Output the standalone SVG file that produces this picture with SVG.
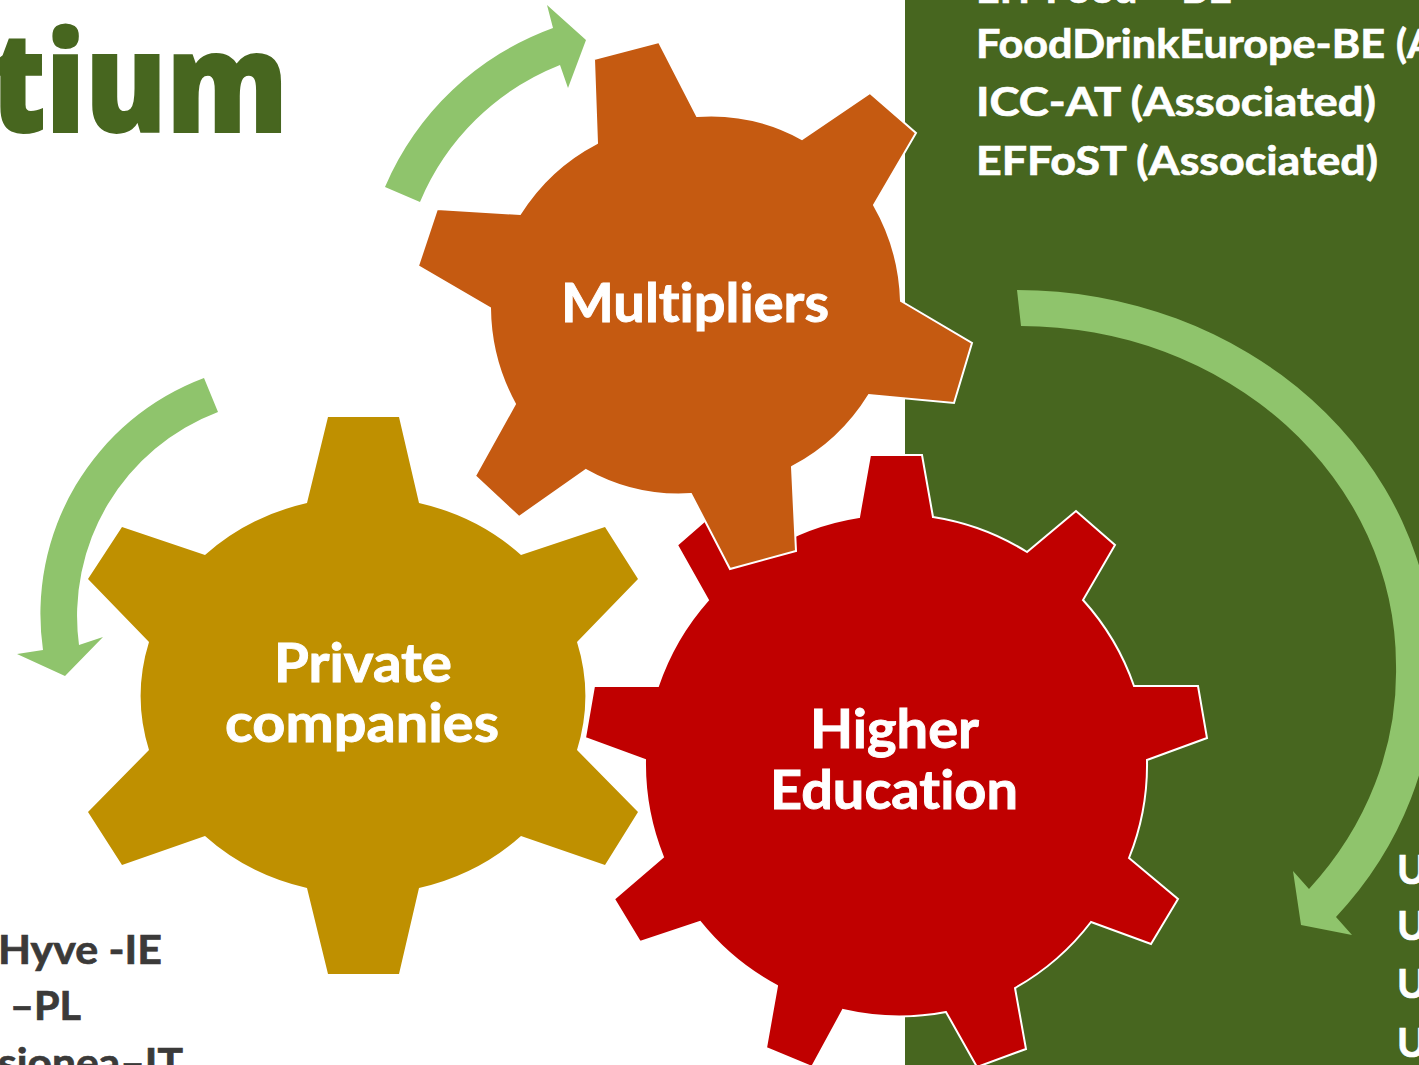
<svg xmlns="http://www.w3.org/2000/svg" width="1419" height="1065" viewBox="0 0 1419 1065">
<style>
.gear{stroke:#fff;stroke-width:2;stroke-linejoin:miter}
.arrow{fill:#8fc46c}
text{font-family:"Lato","Open Sans","Liberation Sans",sans-serif;font-weight:700;font-variant-ligatures:none}
.label{fill:#fff;stroke:#fff;stroke-width:.9px;font-size:54px}
.list{fill:#fff;stroke:#fff;stroke-width:.7px;font-size:40px}
.dark{fill:#3b3a39;stroke:#3b3a39;stroke-width:.7px;font-size:40px}
.title{fill:#47661f;stroke:#47661f;stroke-width:2px;font-size:138px;font-weight:800;font-family:"Open Sans","Liberation Sans",sans-serif}
</style>
<rect width="1419" height="1065" fill="#fff"/>
<rect id="panel" x="905" y="0" width="514" height="1065" fill="#47661f"/>
<text class="title" x="-10" y="132" textLength="298" lengthAdjust="spacingAndGlyphs">tium</text>
<g id="list-right">
<text class="list" x="976" y="3" textLength="256" lengthAdjust="spacingAndGlyphs">EIT Food – BE</text>
<text class="list" x="976" y="58" textLength="409" lengthAdjust="spacingAndGlyphs">FoodDrinkEurope-BE</text>
<text class="list" x="1396" y="58">(A</text>
<text class="list" x="976" y="116" textLength="400" lengthAdjust="spacingAndGlyphs">ICC-AT (Associated)</text>
<text class="list" x="976" y="175" textLength="402" lengthAdjust="spacingAndGlyphs">EFFoST (Associated)</text>
<text class="list" x="1397" y="884">U</text>
<text class="list" x="1397" y="940">U</text>
<text class="list" x="1397" y="998">U</text>
<text class="list" x="1397" y="1057">U</text>
</g>
<g id="list-left">
<text class="dark" x="-2" y="964" textLength="164" lengthAdjust="spacingAndGlyphs">Hyve -IE</text>
<text class="dark" x="10" y="1020" textLength="71" lengthAdjust="spacingAndGlyphs">–PL</text>
<text class="dark" x="-2" y="1077" textLength="185" lengthAdjust="spacingAndGlyphs">sionea–IT</text>
</g>
<g id="connectors">
<path class="arrow" d="M385 187A290 290 0 0 1 553 28L547 5L586 40L568 88L560 65A252 252 0 0 0 420 202Z"/>
<path class="arrow" d="M204 378A252 252 0 0 0 43 650L17 654L65 676L103 637L79 645A218 218 0 0 1 218 412Z"/>
<path class="arrow" d="M1017 290A417 375 0 0 1 1434 665A417 375 0 0 1 1336 917L1352 935L1301 925L1293 871L1309 889A375 339 0 0 0 1396 665A375 339 0 0 0 1021 326Z"/>
</g>
<g id="private-companies">
<path fill="#bf9000" d="M328 417H399L419 503A222 200 0 0 1 521 555L605 527L638 579L577 642A222 200 0 0 1 577 750L638 812L605 865L521 836A222 200 0 0 1 419 888L399 974H328L307 888A222 200 0 0 1 205 836L122 865L88 812L149 750A222 200 0 0 1 149 642L88 579L122 527L205 555A222 200 0 0 1 307 503Z"/>
<text class="label" x="274" y="682" textLength="178" lengthAdjust="spacingAndGlyphs">Private</text>
<text class="label" x="225" y="742" textLength="274" lengthAdjust="spacingAndGlyphs">companies</text>
</g>
<g id="higher-education">
<path class="gear" fill="#c00000" d="M870 455H922L933 517A250 250 0 0 1 1027 552L1076 511L1115 545L1083 600A250 250 0 0 1 1134 686H1198L1207 738L1147 760A250 250 0 0 1 1129 858L1178 899L1151 944L1091 922A250 250 0 0 1 1015 988L1026 1049L977 1067L946 1012A250 250 0 0 1 843 1010L812 1067L766 1048L777 986A250 250 0 0 1 700 922L640 942L614 899L663 857A250 250 0 0 1 645 760L585 738L594 686H658A250 250 0 0 1 708 600L677 545L716 511L765 552A250 250 0 0 1 859 517Z"/>
<text class="label" x="810" y="748" textLength="169" lengthAdjust="spacingAndGlyphs">Higher</text>
<text class="label" x="770" y="809" textLength="248" lengthAdjust="spacingAndGlyphs">Education</text>
</g>
<g id="multipliers">
<path class="gear" fill="#c55a11" d="M594 59L659 42L697 116A190 190 0 0 1 802 139L870 93L916 133L874 205A204 204 0 0 1 901 301L972 343L954 403L869 395A200 200 0 0 1 792 467L796 551L730 569L691 494A190 190 0 0 1 586 470L519 517L475 476L515 404A204 204 0 0 1 490 308L418 266L437 209L520 214A200 200 0 0 1 597 143Z"/>
<text class="label" x="561" y="322" textLength="268" lengthAdjust="spacingAndGlyphs">Multipliers</text>
</g>
</svg>
